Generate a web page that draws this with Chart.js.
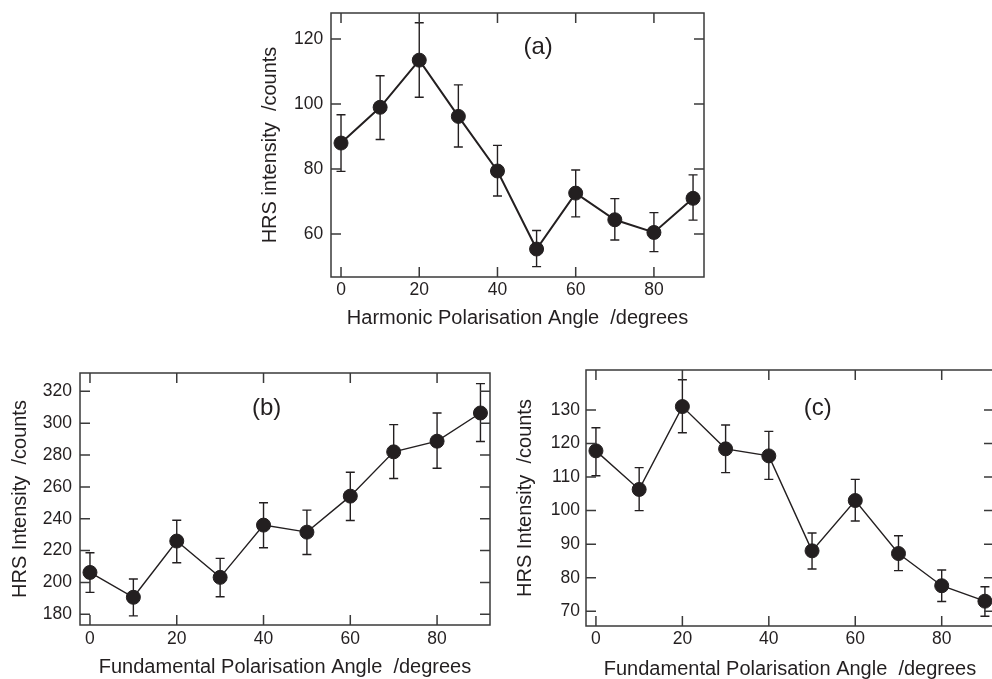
<!DOCTYPE html>
<html>
<head>
<meta charset="utf-8">
<title>HRS intensity vs polarisation angle</title>
<script src="https://cdn.jsdelivr.net/npm/chart.js@4.4.1/dist/chart.umd.min.js"></script>
<style>
  html, body { margin: 0; padding: 0; background: #fff; overflow: hidden; width: 992px; height: 679px; }
  canvas { position: absolute; }
  #chart-a { left: 250px; top: 0; }
  #chart-b { left: 0; top: 350px; }
  #chart-c { left: 500px; top: 350px; }
</style>
</head>
<body>
<canvas id="chart-a" width="470" height="340"></canvas>
<canvas id="chart-b" width="500" height="345"></canvas>
<canvas id="chart-c" width="520" height="345"></canvas>
<script>
// polarisation angles (degrees) shared by all three panels
const angles = [0, 10, 20, 30, 40, 50, 60, 70, 80, 90];
const xTicks = [0, 20, 40, 60, 80];

// (a) harmonic polarisation
const harmonicCounts = [88, 99, 113.5, 96.2, 79.4, 55.4, 72.6, 64.4, 60.5, 71];
const harmonicLow = [79.3, 89.1, 102.1, 86.8, 71.7, 50, 65.3, 58.2, 54.6, 64.3];
const harmonicHigh = [96.7, 108.7, 125, 105.9, 87.3, 61.1, 79.7, 70.9, 66.6, 78.2];
const harmonicYTicks = [60, 80, 100, 120];

// (b) fundamental polarisation
const fundBCounts = [206.3, 190.7, 226, 203.2, 236, 231.6, 254.2, 282, 288.7, 306.4];
const fundBLow = [193.8, 179, 212.4, 191, 221.8, 217.6, 238.9, 265.3, 271.7, 288.5];
const fundBHigh = [218.7, 202.2, 239.1, 215.1, 250, 245.4, 269.2, 299.1, 306.4, 324.8];
const fundBYTicks = [180, 200, 220, 240, 260, 280, 300, 320];

// (c) fundamental polarisation
const fundCCounts = [117.8, 106.3, 131, 118.4, 116.3, 88, 103, 87.2, 77.6, 73];
const fundCLow = [110.4, 100, 123.2, 111.3, 109.3, 82.6, 96.9, 82.1, 72.9, 68.5];
const fundCHigh = [124.7, 112.8, 139, 125.5, 123.6, 93.3, 109.3, 92.5, 82.3, 77.3];
const fundCYTicks = [70, 80, 90, 100, 110, 120, 130];

const ink = '#231f20';
const frameInk = '#3a3a3a';
const family = "'Liberation Sans', Arial, Helvetica, sans-serif";

// error bars under the points, box frame with inward ticks on all sides, panel tag
const errorBarsAndFrame = {
    id: 'errorBarsAndFrame',
    beforeDatasetsDraw(chart) {
        const { ctx, scales: { x, y } } = chart;
        const ds = chart.data.datasets[0];
        ctx.save();
        ctx.strokeStyle = ink;
        ctx.lineWidth = 1.4;
        ds.data.forEach((pt, i) => {
            const px = x.getPixelForValue(pt.x);
            const top = y.getPixelForValue(ds.errHigh[i]);
            const bottom = y.getPixelForValue(ds.errLow[i]);
            ctx.beginPath();
            ctx.moveTo(px, top); ctx.lineTo(px, bottom);
            ctx.moveTo(px - 4.5, top); ctx.lineTo(px + 4.5, top);
            ctx.moveTo(px - 4.5, bottom); ctx.lineTo(px + 4.5, bottom);
            ctx.stroke();
        });
        ctx.restore();
    },
    afterDraw(chart, args, opts) {
        const { ctx, chartArea: area, scales: { x, y } } = chart;
        const len = 10;
        ctx.save();
        ctx.strokeStyle = frameInk;
        ctx.lineWidth = 1.5;
        ctx.strokeRect(area.left, area.top, area.right - area.left, area.bottom - area.top);
        ctx.beginPath();
        x.ticks.forEach(t => {
            const px = x.getPixelForValue(t.value);
            ctx.moveTo(px, area.bottom); ctx.lineTo(px, area.bottom - len);
            ctx.moveTo(px, area.top); ctx.lineTo(px, area.top + len);
        });
        y.ticks.forEach(t => {
            const py = y.getPixelForValue(t.value);
            ctx.moveTo(area.left, py); ctx.lineTo(area.left + len, py);
            ctx.moveTo(area.right, py); ctx.lineTo(area.right - len, py);
        });
        ctx.stroke();

        ctx.fillStyle = ink;
        ctx.font = `24px ${family}`;
        ctx.textAlign = 'center';
        ctx.textBaseline = 'middle';
        ctx.fillText(opts.text, x.getPixelForValue(opts.x), y.getPixelForValue(opts.y));
        ctx.restore();
    }
};

function makeChart(id, cfg) {
    const fixSize = (prop, size) => scale => {
        scale[prop] = size;
        scale.paddingTop = 0;
        scale.paddingBottom = 0;
        scale.paddingLeft = 0;
        scale.paddingRight = 0;
    };

    return new Chart(document.getElementById(id), {
        type: 'line',
        data: {
            datasets: [{
                data: angles.map((a, i) => ({ x: a, y: cfg.counts[i] })),
                errLow: cfg.low,
                errHigh: cfg.high,
                borderColor: ink,
                borderWidth: cfg.lineWidth,
                backgroundColor: ink,
                pointBackgroundColor: ink,
                pointBorderColor: ink,
                pointBorderWidth: 1,
                pointRadius: 7,
                tension: 0,
                clip: false
            }]
        },
        options: {
            responsive: false,
            animation: false,
            devicePixelRatio: 1,
            layout: { padding: { top: cfg.padTop, right: cfg.padRight, left: 0, bottom: 0 } },
            plugins: {
                legend: { display: false },
                tooltip: { enabled: false },
                errorBarsAndFrame: { text: cfg.tag, x: cfg.tagX, y: cfg.tagY }
            },
            scales: {
                x: {
                    type: 'linear',
                    min: cfg.xMin,
                    max: cfg.xMax,
                    afterBuildTicks: s => { s.ticks = xTicks.map(v => ({ value: v })); },
                    afterFit: fixSize('height', cfg.xHeight),
                    grid: { display: false, drawTicks: false },
                    border: { display: false },
                    ticks: { color: ink, font: { family, size: 17.5 }, padding: cfg.xTickPad, maxRotation: 0, autoSkip: false },
                    title: {
                        display: true,
                        text: cfg.xTitle,
                        color: ink,
                        font: { family, size: 20 },
                        padding: { top: 0, bottom: cfg.xTitlePad }
                    }
                },
                y: {
                    type: 'linear',
                    min: cfg.yMin,
                    max: cfg.yMax,
                    afterBuildTicks: s => { s.ticks = cfg.yTicks.map(v => ({ value: v })); },
                    afterFit: fixSize('width', cfg.yWidth),
                    grid: { display: false, drawTicks: false },
                    border: { display: false },
                    ticks: { color: ink, font: { family, size: 17.5 }, padding: cfg.yTickPad, autoSkip: false },
                    title: {
                        display: true,
                        text: cfg.yTitle,
                        color: ink,
                        font: { family, size: 20 },
                        padding: { top: cfg.yTitlePad, bottom: 0 }
                    }
                }
            }
        },
        plugins: [errorBarsAndFrame]
    });
}

makeChart('chart-a', {
    counts: harmonicCounts, low: harmonicLow, high: harmonicHigh, yTicks: harmonicYTicks,
    xMin: -2.56, xMax: 92.8, yMin: 46.8, yMax: 128,
    yWidth: 81, xHeight: 63, padTop: 13, padRight: 16,
    xTickPad: 2.2, yTickPad: 7.7, xTitlePad: 9.3, yTitlePad: 8.5,
    lineWidth: 2,
    xTitle: 'Harmonic Polarisation Angle  /degrees',
    yTitle: 'HRS intensity  /counts',
    tag: '(a)', tagX: 50.4, tagY: 117.5
});

makeChart('chart-b', {
    counts: fundBCounts, low: fundBLow, high: fundBHigh, yTicks: fundBYTicks,
    xMin: -2.3, xMax: 92.2, yMin: 173.3, yMax: 331.5,
    yWidth: 80, xHeight: 70, padTop: 23, padRight: 10,
    xTickPad: 3.2, yTickPad: 8, xTitlePad: 16, yTitlePad: 8,
    lineWidth: 1.4,
    xTitle: 'Fundamental Polarisation Angle  /degrees',
    yTitle: 'HRS Intensity  /counts',
    tag: '(b)', tagX: 40.7, tagY: 309
});

makeChart('chart-c', {
    counts: fundCCounts, low: fundCLow, high: fundCHigh, yTicks: fundCYTicks,
    xMin: -2.3, xMax: 92.1, yMin: 65.6, yMax: 141.9,
    yWidth: 86, xHeight: 69, padTop: 20, padRight: 26,
    xTickPad: 2.2, yTickPad: 6, xTitlePad: 13.8, yTitlePad: 13.8,
    lineWidth: 1.4,
    xTitle: 'Fundamental Polarisation Angle  /degrees',
    yTitle: 'HRS Intensity  /counts',
    tag: '(c)', tagX: 51.3, tagY: 130.6
});
</script>
</body>
</html>
